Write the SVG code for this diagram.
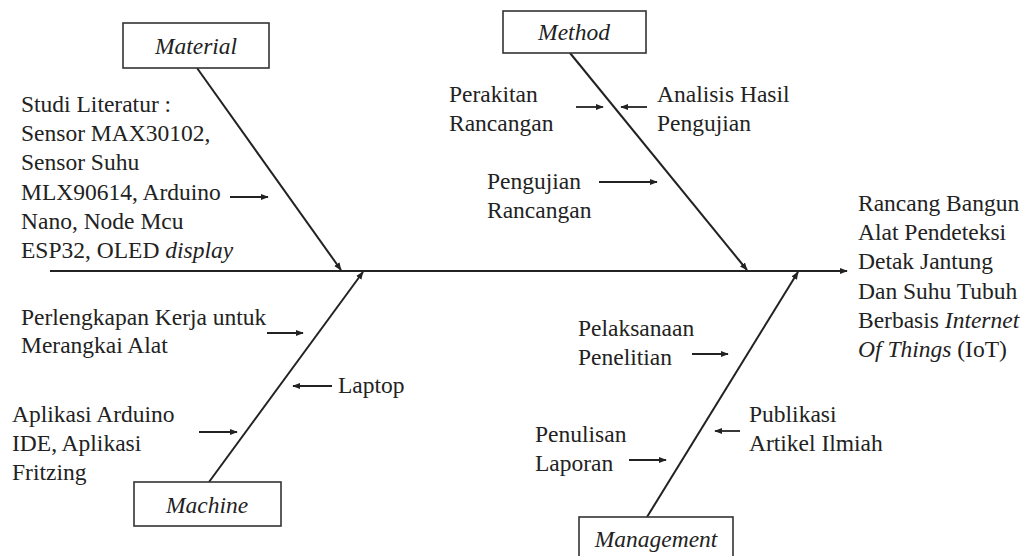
<svg xmlns="http://www.w3.org/2000/svg" width="1031" height="556" viewBox="0 0 1031 556">
<style>
text{font-family:"Liberation Serif","Times New Roman",serif;font-size:23.5px;fill:#222}
.it{font-style:italic}
.box{fill:#fff;stroke:#333;stroke-width:1.6}
.bone{stroke:#222;stroke-width:2;fill:none}
.sub{stroke:#222;stroke-width:1.8;fill:none}
</style>
<defs>
<marker id="ah" viewBox="0 0 10 10" refX="9" refY="5" markerWidth="8" markerHeight="8" markerUnits="userSpaceOnUse" orient="auto">
<path d="M0,1 L10,5 L0,9 Z" fill="#222"/>
</marker>
</defs>
<rect width="1031" height="556" fill="#fff"/>
<g id="connectors">
<line class="bone" x1="50" y1="271" x2="847" y2="271" marker-end="url(#ah)"/>
<line class="bone" x1="197" y1="68" x2="341" y2="270" marker-end="url(#ah)"/>
<line class="bone" x1="570" y1="53" x2="747" y2="270" marker-end="url(#ah)"/>
<line class="bone" x1="209" y1="482" x2="363" y2="272" marker-end="url(#ah)"/>
<line class="bone" x1="647" y1="517" x2="798" y2="272" marker-end="url(#ah)"/>
<line class="sub" x1="230" y1="197" x2="268" y2="197" marker-end="url(#ah)"/>
<line class="sub" x1="576" y1="107" x2="603" y2="107" marker-end="url(#ah)"/>
<line class="sub" x1="647" y1="107" x2="621" y2="107" marker-end="url(#ah)"/>
<line class="sub" x1="599" y1="182" x2="657" y2="182" marker-end="url(#ah)"/>
<line class="sub" x1="267" y1="333" x2="303" y2="333" marker-end="url(#ah)"/>
<line class="sub" x1="332" y1="386" x2="293" y2="386" marker-end="url(#ah)"/>
<line class="sub" x1="199" y1="432" x2="237" y2="432" marker-end="url(#ah)"/>
<line class="sub" x1="692" y1="354" x2="728" y2="354" marker-end="url(#ah)"/>
<line class="sub" x1="740" y1="431" x2="715" y2="431" marker-end="url(#ah)"/>
<line class="sub" x1="629" y1="460" x2="666" y2="460" marker-end="url(#ah)"/>
</g>
<g id="material">
<rect class="box" x="123" y="23" width="146" height="45"/>
<text class="it" x="196" y="54" text-anchor="middle">Material</text>
</g>
<g id="method">
<rect class="box" x="503" y="11" width="143" height="42"/>
<text class="it" x="574" y="40" text-anchor="middle">Method</text>
</g>
<g id="machine">
<rect class="box" x="134" y="482" width="147" height="44"/>
<text class="it" x="207" y="513" text-anchor="middle">Machine</text>
</g>
<g id="management">
<rect class="box" x="579" y="517" width="154" height="45"/>
<text class="it" x="656" y="547" text-anchor="middle">Management</text>
</g>
<g id="material-causes">
<text x="21" y="112">Studi Literatur :</text>
<text x="21" y="141">Sensor MAX30102,</text>
<text x="21" y="170">Sensor Suhu</text>
<text x="21" y="200">MLX90614, Arduino</text>
<text x="21" y="229">Nano, Node Mcu</text>
<text x="21" y="258">ESP32, OLED <tspan class="it">display</tspan></text>
</g>
<g id="method-causes">
<text x="449" y="102">Perakitan</text>
<text x="449" y="131">Rancangan</text>
<text x="657" y="102">Analisis Hasil</text>
<text x="657" y="131">Pengujian</text>
<text x="487" y="189">Pengujian</text>
<text x="487" y="218">Rancangan</text>
</g>
<g id="machine-causes">
<text x="21" y="325">Perlengkapan Kerja untuk</text>
<text x="21" y="353">Merangkai Alat</text>
<text x="338" y="393">Laptop</text>
<text x="12" y="422">Aplikasi Arduino</text>
<text x="12" y="451">IDE, Aplikasi</text>
<text x="12" y="480">Fritzing</text>
</g>
<g id="management-causes">
<text x="578" y="336">Pelaksanaan</text>
<text x="578" y="365">Penelitian</text>
<text x="749" y="422">Publikasi</text>
<text x="749" y="451">Artikel Ilmiah</text>
<text x="535" y="442">Penulisan</text>
<text x="535" y="471">Laporan</text>
</g>
<g id="effect">
<text x="858" y="211">Rancang Bangun</text>
<text x="858" y="240">Alat Pendeteksi</text>
<text x="858" y="269">Detak Jantung</text>
<text x="858" y="299">Dan Suhu Tubuh</text>
<text x="858" y="328">Berbasis <tspan class="it">Internet</tspan></text>
<text x="858" y="357"><tspan class="it">Of Things</tspan> (IoT)</text>
</g>
</svg>
